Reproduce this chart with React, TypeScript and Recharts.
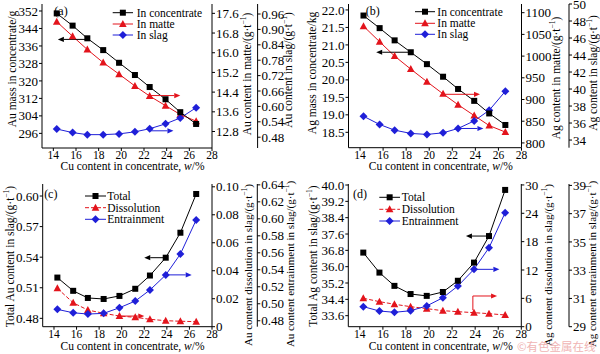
import React from "react";
import { ComposedChart, Line, XAxis, YAxis, ReferenceLine } from "recharts";

// Cu content in concentrate, w/%
const cuContent = [14.3, 15.7, 17.0, 18.4, 19.8, 21.2, 22.5, 23.9, 25.2, 26.6];

// (a) Au distribution
const auMassConc = [350.9, 345.3, 339.5, 334.1, 328.3, 322.7, 317.2, 311.6, 305.7, 300.3];
const auMatte = [17.26, 16.67, 16.13, 15.6, 15.13, 14.65, 14.24, 13.85, 13.49, 13.22];
const auSlag = [0.512, 0.498, 0.49, 0.49, 0.493, 0.501, 0.513, 0.532, 0.555, 0.595];

// (b) Ag distribution
const agMassConc = [21.84, 21.48, 21.13, 20.79, 20.45, 20.09, 19.74, 19.4, 19.04, 18.71];
const agMatte = [1069, 1033, 1000, 970, 941, 913, 888, 863, 840, 825];
const agSlag = [36.8, 35.83, 35.16, 34.78, 34.66, 34.85, 35.36, 36.25, 37.5, 39.74];

// (c) Au in slag
const auTotal = [0.52, 0.507, 0.5, 0.499, 0.502, 0.509, 0.522, 0.5395, 0.564, 0.602];
const auDissolution = [0.0274, 0.0171, 0.0119, 0.0096, 0.0076, 0.0067, 0.0053, 0.0043, 0.0039, 0.0036];
const auEntrainment = [0.4934, 0.4894, 0.4879, 0.4887, 0.4953, 0.5032, 0.5162, 0.5339, 0.5586, 0.5987];

// (d) Ag in slag
const agTotal = [36.69, 35.71, 35.06, 34.66, 34.57, 34.76, 35.31, 36.2, 37.5, 39.76];
const agDissolution = [6.02, 5.3, 4.75, 4.24, 3.82, 3.39, 3.18, 2.97, 2.76, 2.48];
const agEntrainment = [30.42, 30.11, 30.02, 30.13, 30.47, 31.05, 31.88, 33.06, 34.59, 37.07];

// tick labels
const xTicks = [14, 16, 18, 20, 22, 24, 26, 28];
const auMassTicks = [296, 304, 312, 320, 328, 336, 344, 352];
const auMatteTicks = [12.8, 13.6, 14.4, 15.2, 16.0, 16.8, 17.6];
const auSlagTicks = [0.48, 0.54, 0.6, 0.66, 0.72, 0.78, 0.84, 0.9, 0.96];
const agMassTicks = [18.5, 19.0, 19.5, 20.0, 20.5, 21.0, 21.5, 22.0];
const agMatteTicks = [800, 850, 900, 950, 1000, 1050, 1100];
const agSlagTicks = [34, 36, 38, 40, 42, 44, 46, 48, 50];
const auTotalTicks = [0.48, 0.51, 0.54, 0.57, 0.6];
const auDissTicks = [0, 0.02, 0.04, 0.06, 0.08, 0.1];
const auEntrTicks = [0.48, 0.5, 0.52, 0.54, 0.56, 0.58, 0.6, 0.62, 0.64];
const agTotalTicks = [33.6, 34.4, 35.2, 36.0, 36.8, 37.6, 38.4, 39.2, 40.0];
const agDissTicks = [0, 6, 12, 18, 24, 30];
const agEntrTicks = [29, 31, 33, 35, 37, 39];

const phaseNames = ["In concentrate", "In matte", "In slag"];
const slagNames = ["Total", "Dissolution", "Entrainment"];

const FONT = "'Liberation Serif', 'Times New Roman', Times, serif";
const BLACK = "#000";
const RED = "#e3141c";
const BLUE = "#1f1fd8";
const X_DOMAIN: [number, number] = [13, 28];

type Shape = "square" | "triangle" | "diamond";

const markerEl = (shape: Shape, cx: number, cy: number, color: string, key?: string) => {
  if (shape === "square") return <rect key={key} x={cx - 3} y={cy - 3} width={6} height={6} fill={color} />;
  if (shape === "triangle")
    return <polygon key={key} points={`${cx},${cy - 4} ${cx + 3.8},${cy + 3} ${cx - 3.8},${cy + 3}`} fill={color} />;
  return <polygon key={key} points={`${cx},${cy - 4} ${cx + 4},${cy} ${cx},${cy + 4} ${cx - 4},${cy}`} fill={color} />;
};

const dotOf = (shape: Shape, color: string) => (props: any) => {
  const { cx, cy, index } = props;
  if (cx == null || cy == null) return <g key={`e${index}`} />;
  return markerEl(shape, cx, cy, color, `d${index}`);
};

// arrow drawn along a reference segment, head at the second point
const arrowShape = (color: string) => (props: any) => {
  const { x1, y1, x2, y2 } = props;
  const ang = Math.atan2(y2 - y1, x2 - x1);
  const L = 6;
  const W = 2.6;
  const hx = x2 - L * Math.cos(ang);
  const hy = y2 - L * Math.sin(ang);
  const px = -Math.sin(ang) * W;
  const py = Math.cos(ang) * W;
  return (
    <g>
      <line x1={x1} y1={y1} x2={hx} y2={hy} stroke={color} strokeWidth={1} />
      <polygon points={`${x2},${y2} ${hx + px},${hy + py} ${hx - px},${hy - py}`} fill={color} />
    </g>
  );
};

const fmt = (digits: number) => (v: number) => (v === 0 ? "0" : v.toFixed(digits));

type AxisSpec = { domain: [number, number]; ticks: number[]; width: number; digits: number };
type TitleSpec = { text: string; unit: boolean; x: number; y: number; size?: number };

const VTitle = ({ text, unit, x, y, size = 11.5 }: TitleSpec) => (
  <text
    transform={`translate(${x},${y}) rotate(-90)`}
    textAnchor="middle"
    dominantBaseline="central"
    fontSize={size}
    fill="#000"
  >
    {text}
    {unit && (
      <>
        <tspan dy={-4} fontSize={7.5}>−1</tspan>
        <tspan dy={4}>)</tspan>
      </>
    )}
  </text>
);

type PanelProps = {
  left: number;
  top: number;
  marginTop: number;
  xHeight: number;
  rows: any[];
  axes: { l: AxisSpec; r1: AxisSpec; r2: AxisSpec };
  dashedRed: boolean;
  titles: TitleSpec[];
  xTitle: { x: number; y: number };
  letter: { text: string; x: number; y: number };
  legend: { x1: number; x2: number; tx: number; ys: number[]; names: string[] };
  arrows: React.ReactNode[];
};

const Panel = (p: PanelProps) => {
  const yAxis = (id: "l" | "r1" | "r2", orientation: "left" | "right") => {
    const a = p.axes[id];
    return (
      <YAxis
        key={id}
        yAxisId={id}
        orientation={orientation}
        type="number"
        domain={a.domain}
        ticks={a.ticks}
        allowDataOverflow
        interval={0}
        width={a.width}
        tickFormatter={fmt(a.digits)}
        tickSize={3}
        tickMargin={1}
        axisLine={{ stroke: "#000" }}
        tickLine={{ stroke: "#000" }}
        tick={{ fill: "#000", fontSize: 13 }}
      />
    );
  };
  const legendStyle = [
    { shape: "square" as Shape, color: BLACK, dash: undefined },
    { shape: "triangle" as Shape, color: RED, dash: p.dashedRed ? "4 2" : undefined },
    { shape: "diamond" as Shape, color: BLUE, dash: undefined },
  ];
  return (
    <div style={{ position: "absolute", left: p.left, top: p.top, width: 300, height: 177 }}>
      <ComposedChart width={300} height={177} data={p.rows} margin={{ top: p.marginTop, right: 0, bottom: 0, left: 0 }}>
        <XAxis
          dataKey="cu"
          type="number"
          domain={X_DOMAIN}
          ticks={xTicks}
          allowDataOverflow
          interval={0}
          height={p.xHeight}
          tickSize={3}
          tickMargin={0}
          axisLine={{ stroke: "#000" }}
          tickLine={{ stroke: "#000" }}
          tick={{ fill: "#000", fontSize: 11.5 }}
        />
        <XAxis
          xAxisId="top"
          orientation="top"
          type="number"
          domain={X_DOMAIN}
          allowDataOverflow
          height={0}
          tick={false}
          tickLine={false}
          axisLine={{ stroke: "#000" }}
        />
        {yAxis("l", "left")}
        {yAxis("r1", "right")}
        {yAxis("r2", "right")}
        <Line
          yAxisId="r1"
          type="linear"
          dataKey="s2"
          stroke={RED}
          strokeWidth={1}
          strokeDasharray={p.dashedRed ? "4 2" : undefined}
          dot={dotOf("triangle", RED)}
          isAnimationActive={false}
        />
        <Line
          yAxisId="r2"
          type="linear"
          dataKey="s3"
          stroke={BLUE}
          strokeWidth={1}
          dot={dotOf("diamond", BLUE)}
          isAnimationActive={false}
        />
        <Line
          yAxisId="l"
          type="linear"
          dataKey="s1"
          stroke={BLACK}
          strokeWidth={1}
          dot={dotOf("square", BLACK)}
          isAnimationActive={false}
        />
        {p.arrows}
      </ComposedChart>
      <svg
        width={300}
        height={177}
        style={{ position: "absolute", left: 0, top: 0, pointerEvents: "none", fontFamily: FONT, overflow: "visible" }}
      >
        {p.titles.map((t, i) => (
          <VTitle key={i} {...t} />
        ))}
        <text x={p.xTitle.x} y={p.xTitle.y} textAnchor="middle" dominantBaseline="central" fontSize={11.5} fill="#000">
          Cu content in concentrate, <tspan fontStyle="italic">w</tspan>/%
        </text>
        <text x={p.letter.x} y={p.letter.y} textAnchor="middle" dominantBaseline="central" fontSize={12} fill="#000">
          {p.letter.text}
        </text>
        {p.legend.names.map((name, i) => {
          const s = legendStyle[i];
          const y = p.legend.ys[i];
          const cx = (p.legend.x1 + p.legend.x2) / 2;
          return (
            <g key={name}>
              <line x1={p.legend.x1} x2={p.legend.x2} y1={y} y2={y} stroke={s.color} strokeDasharray={s.dash} />
              {markerEl(s.shape, cx, y, s.color)}
              <text x={p.legend.tx} y={y} dominantBaseline="central" fontSize={11.5} fill="#000">
                {name}
              </text>
            </g>
          );
        })}
      </svg>
    </div>
  );
};

const rowsOf = (a: number[], b: number[], c: number[]) =>
  cuContent.map((cu, i) => ({ cu, s1: a[i], s2: b[i], s3: c[i] }));

export default function App() {
  return (
    <div
      style={{
        position: "fixed",
        left: 0,
        top: 0,
        width: 600,
        height: 354,
        background: "#fff",
        overflow: "hidden",
        fontFamily: FONT,
      }}
    >
      {/* (a) Au */}
      <Panel
        left={0}
        top={0}
        marginTop={4}
        xHeight={29}
        rows={rowsOf(auMassConc, auMatte, auSlag)}
        axes={{
          l: { domain: [289.3, 355.2], ticks: auMassTicks, width: 42, digits: 0 },
          r1: { domain: [12.13, 17.98], ticks: auMatteTicks, width: 45.6, digits: 1 },
          r2: { domain: [0.438, 0.999], ticks: auSlagTicks, width: 42.4, digits: 2 },
        }}
        dashedRed={false}
        titles={[
          { text: "Au mass in concentrate/g", unit: false, x: 12, y: 69 },
          { text: "Au content in matte/(g·t", unit: true, x: 246.7, y: 74 },
          { text: "Au content in slag/(g·t", unit: true, x: 288.3, y: 70 },
        ]}
        xTitle={{ x: 132.5, y: 166 }}
        letter={{ text: "(a)", x: 61, y: 11 }}
        legend={{ x1: 112.7, x2: 133, tx: 136.7, ys: [12.7, 24, 35], names: phaseNames }}
        arrows={[
          <ReferenceLine key="a1" yAxisId="l" segment={[{ x: 17.0, y: 339 }, { x: 14.4, y: 339 }]} shape={arrowShape(BLACK)} />,
          <ReferenceLine key="a2" yAxisId="r1" segment={[{ x: 22.5, y: 14.26 }, { x: 25.2, y: 14.26 }]} shape={arrowShape(RED)} />,
          <ReferenceLine key="a3" yAxisId="r2" segment={[{ x: 22.5, y: 0.505 }, { x: 24.6, y: 0.505 }]} shape={arrowShape(BLUE)} />,
        ]}
      />
      {/* (b) Ag */}
      <Panel
        left={300}
        top={0}
        marginTop={4}
        xHeight={29.3}
        rows={rowsOf(agMassConc, agMatte, agSlag)}
        axes={{
          l: { domain: [18.06, 22.17], ticks: agMassTicks, width: 48.5, digits: 1 },
          r1: { domain: [789, 1120], ticks: agMatteTicks, width: 47.5, digits: 0 },
          r2: { domain: [33.1, 50], ticks: agSlagTicks, width: 31, digits: 0 },
        }}
        dashedRed={false}
        titles={[
          { text: "Ag mass in concentrate/kg", unit: false, x: 11.7, y: 73 },
          { text: "Ag content in matte/(g·t", unit: true, x: 255.7, y: 78 },
          { text: "Ag content in slag/(g·t", unit: true, x: 293.3, y: 73 },
        ]}
        xTitle={{ x: 140.8, y: 166 }}
        letter={{ text: "(b)", x: 72.7, y: 11 }}
        legend={{ x1: 115, x2: 135, tx: 137.3, ys: [11.7, 23.3, 34.3], names: phaseNames }}
        arrows={[
          <ReferenceLine key="b1" yAxisId="l" segment={[{ x: 18.4, y: 20.79 }, { x: 15.4, y: 20.79 }]} shape={arrowShape(BLACK)} />,
          <ReferenceLine key="b2" yAxisId="r1" segment={[{ x: 21.2, y: 912 }, { x: 24.4, y: 912 }]} shape={arrowShape(RED)} />,
          <ReferenceLine key="b3" yAxisId="r2" segment={[{ x: 22.5, y: 35.36 }, { x: 24.7, y: 35.36 }]} shape={arrowShape(BLUE)} />,
        ]}
      />
      {/* (c) Au in slag */}
      <Panel
        left={0}
        top={177}
        marginTop={7}
        xHeight={27.3}
        rows={rowsOf(auTotal, auDissolution, auEntrainment)}
        axes={{
          l: { domain: [0.4718, 0.6118], ticks: auTotalTicks, width: 42.7, digits: 2 },
          r1: { domain: [0, 0.102], ticks: auDissTicks, width: 45.3, digits: 2 },
          r2: { domain: [0.473, 0.641], ticks: auEntrTicks, width: 42.7, digits: 2 },
        }}
        dashedRed={true}
        titles={[
          { text: "Total Au content in slag/(g·t", unit: true, x: 10, y: 79.5 },
          { text: "Au content dissolution in slag/(g·t", unit: true, x: 248.3, y: 88, size: 11 },
          { text: "Au content entrainment in slag/(g·t", unit: true, x: 290, y: 87, size: 11 },
        ]}
        xTitle={{ x: 132.5, y: 168.5 }}
        letter={{ text: "(c)", x: 50.8, y: 17 }}
        legend={{ x1: 85, x2: 106, tx: 107.3, ys: [19, 30.7, 42.3], names: slagNames }}
        arrows={[
          <ReferenceLine key="c1" yAxisId="l" segment={[{ x: 23.9, y: 0.5395 }, { x: 22.0, y: 0.5395 }]} shape={arrowShape(BLACK)} />,
          <ReferenceLine key="c2" yAxisId="r1" segment={[{ x: 19.8, y: 0.0076 }, { x: 22.0, y: 0.0076 }]} shape={arrowShape(RED)} />,
          <ReferenceLine key="c3" yAxisId="r2" segment={[{ x: 23.9, y: 0.534 }, { x: 26.2, y: 0.534 }]} shape={arrowShape(BLUE)} />,
        ]}
      />
      {/* (d) Ag in slag */}
      <Panel
        left={300}
        top={177}
        marginTop={7}
        xHeight={27.3}
        rows={rowsOf(agTotal, agDissolution, agEntrainment)}
        axes={{
          l: { domain: [33.06, 40.05], ticks: agTotalTicks, width: 48.3, digits: 1 },
          r1: { domain: [0, 30.2], ticks: agDissTicks, width: 47.7, digits: 0 },
          r2: { domain: [29, 39.1], ticks: agEntrTicks, width: 31, digits: 0 },
        }}
        dashedRed={true}
        titles={[
          { text: "Total Ag content in slag/(g·t", unit: true, x: 13.3, y: 79 },
          { text: "Ag content dissolution in slag/(g·t", unit: true, x: 248.3, y: 88, size: 11 },
          { text: "Ag content entrainment in slag/(g·t", unit: true, x: 291.7, y: 87, size: 11 },
        ]}
        xTitle={{ x: 140.8, y: 168.5 }}
        letter={{ text: "(d)", x: 60, y: 17 }}
        legend={{ x1: 79.3, x2: 100, tx: 101.7, ys: [20.3, 32.3, 44], names: slagNames }}
        arrows={[
          <ReferenceLine key="d1" yAxisId="l" segment={[{ x: 25.2, y: 37.5 }, { x: 23.2, y: 37.5 }]} shape={arrowShape(BLACK)} />,
          <ReferenceLine key="d2" yAxisId="r2" segment={[{ x: 23.9, y: 33.06 }, { x: 26.1, y: 33.06 }]} shape={arrowShape(BLUE)} />,
          <ReferenceLine key="d3" yAxisId="r1" segment={[{ x: 23.8, y: 3.5 }, { x: 23.8, y: 6.5 }]} stroke={RED} strokeWidth={1} />,
          <ReferenceLine key="d4" yAxisId="r1" segment={[{ x: 23.8, y: 6.5 }, { x: 25.9, y: 6.5 }]} shape={arrowShape(RED)} />,
        ]}
      />
      <svg width={600} height={354} style={{ position: "absolute", left: 0, top: 0, pointerEvents: "none" }}>
        <text x={517} y={351} fontSize={11.5} fill="#f0b4b4" fontFamily="'Noto Sans CJK SC', sans-serif">
          ©有色金属在线
        </text>
      </svg>
    </div>
  );
}
